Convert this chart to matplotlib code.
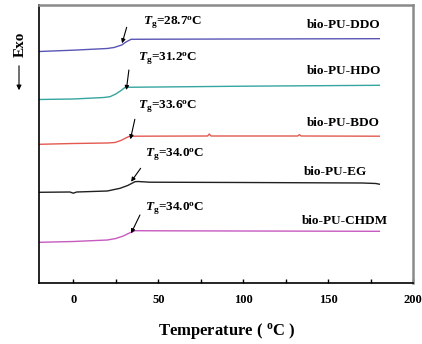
import matplotlib
matplotlib.use("Agg")
from matplotlib import pyplot as plt
from matplotlib.ticker import MultipleLocator

plt.rcParams['font.family'] = ['Liberation Serif', 'DejaVu Serif']
plt.rcParams['font.weight'] = 'bold'
plt.rcParams['mathtext.fontset'] = 'custom'
plt.rcParams['mathtext.rm'] = 'Liberation Serif:bold'
plt.rcParams['mathtext.it'] = 'Liberation Serif:italic:bold'
plt.rcParams['mathtext.bf'] = 'Liberation Serif:bold'

# DSC traces, heat flow in arbitrary units (stacked with offsets)
names = ['bio-PU-DDO', 'bio-PU-HDO', 'bio-PU-BDO', 'bio-PU-EG', 'bio-PU-CHDM']
colors = ['#5a55b5', '#35a5a0', '#e25a50', '#202020', '#c65ac0']
tg = [28.7, 31.2, 33.6, 34.0, 34.0]

t_ddo = [-20, 0, 20, 24, 28.5, 31, 34, 50, 100, 180]
y_ddo = [231.5, 232.8, 234.5, 235.5, 238, 241, 243.7, 243.8, 244, 244.3]

t_hdo = [-20, 0, 18, 21.6, 25, 28.5, 30.5, 50, 100, 180]
y_hdo = [183.5, 184, 185.5, 186.3, 189, 193, 195.7, 196, 196.8, 197.7]

t_bdo = [-20, 0, 20, 24.5, 28, 32.4, 36, 79, 80, 81, 100, 132, 133, 134, 180]
y_bdo = [138.7, 139.5, 140, 140.5, 142.5, 146.3, 146.8, 147, 149, 147, 147, 147, 148.3, 147, 146.8]

t_eg = [-20, -2, 0, 2, 20, 27.5, 32, 36.3, 38, 45, 100, 170, 178, 180]
y_eg = [90.7, 91, 89.8, 91, 92, 94.7, 97.5, 101.3, 101.5, 100.8, 100.5, 100, 99.5, 98.8]

t_chdm = [-20, 0, 20, 25, 29.4, 33, 36.3, 50, 100, 180]
y_chdm = [40.7, 41.5, 43, 44.5, 47, 50, 52.3, 52.2, 52, 51.7]

temps = [t_ddo, t_hdo, t_bdo, t_eg, t_chdm]
flows = [y_ddo, y_hdo, y_bdo, y_eg, y_chdm]

# label and arrow placement
name_xy = [(137.3, 258), (137.5, 212.3), (137.3, 159.7), (135.7, 111.3), (134.5, 62)]
tg_text_xy = [(41.2, 260.3), (38.1, 223.7), (38.1, 176.3), (42.2, 128), (42.2, 73.7)]
arrow_tail = [(31.4, 255.7), (32.7, 213), (36.2, 163.7), (39.6, 114.7), (39.2, 68)]
arrow_tip_y = [239.7, 193, 143.7, 101.3, 49.7]

fig = plt.figure(figsize=(4.22, 3.44), dpi=100)
ax = fig.add_axes([0.0931, 0.1773, 0.8863, 0.8082])

for t, y, c in zip(temps, flows, colors):
    ax.plot(t, y, color=c, lw=1.0)

for i in range(len(names)):
    ax.text(name_xy[i][0], name_xy[i][1], names[i], fontsize=9.5,
            fontweight='bold', ha='left', va='center')
    ax.text(tg_text_xy[i][0], tg_text_xy[i][1],
            r'$T_{\rm g}$=%.1f$^{\rm o}$C' % tg[i], fontsize=9.5,
            ha='left', va='center')
    ax.annotate('', xy=(tg[i], arrow_tip_y[i]), xytext=arrow_tail[i],
                arrowprops=dict(arrowstyle='-|>', color='black', lw=0.8,
                                mutation_scale=6, shrinkA=0, shrinkB=0))

ax.set_xlim(-20, 200)
ax.set_ylim(0, 278)
ax.set_yticks([])
ax.xaxis.set_major_locator(MultipleLocator(50))
ax.xaxis.set_minor_locator(MultipleLocator(25))
ax.tick_params(axis='x', which='both', direction='in', length=3, width=1,
               labelsize=9, pad=8)
for lab in ax.get_xticklabels():
    lab.set_fontweight('bold')

ax.spines['left'].set_linewidth(1.2)
ax.spines['bottom'].set_linewidth(1.2)
for s in ['top', 'right']:
    ax.spines[s].set_color('#8a8a8a')
    ax.spines[s].set_linewidth(1.8)

ax.set_xlabel('Temperature ( $^{\\rm o}$C )', fontsize=12, fontweight='bold',
              labelpad=11)

# "Exo" direction marker on the left
fig.text(20 / 422, 1 - 44 / 344, 'Exo', rotation=90, fontsize=11,
         fontweight='bold', ha='center', va='center')
fig.add_artist(matplotlib.patches.FancyArrowPatch(
    (19 / 422, 1 - 63 / 344), (19 / 422, 1 - 93 / 344),
    transform=fig.transFigure, arrowstyle='-|>', mutation_scale=7,
    color='black', lw=0.8))

fig.savefig('out.png', dpi=100)
